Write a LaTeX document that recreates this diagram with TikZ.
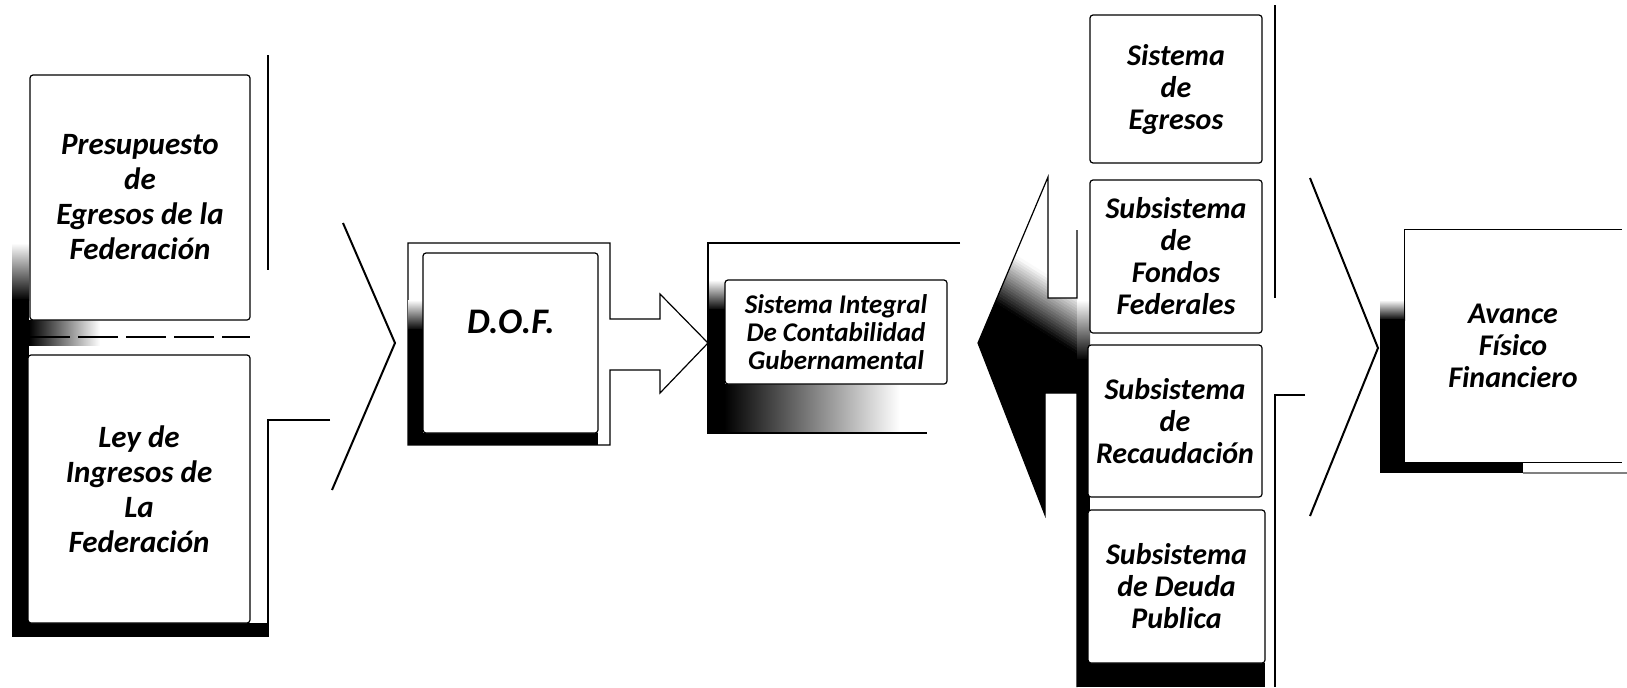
\documentclass[tikz,border=0pt]{standalone}
\usepackage{fontspec}
\setmainfont{Carlito}
\newcommand\lfont{\fontsize{15.5}{17.5}\selectfont\bfseries\itshape}
\newcommand\rfont{\fontsize{15}{16}\selectfont\bfseries\itshape}
\newcommand\dfont{\fontsize{18}{20}\selectfont\bfseries\itshape}
\newcommand\sfont{\fontsize{13.5}{14}\selectfont\bfseries\itshape}
\begin{document}
\begin{tikzpicture}[x=0.5pt,y=-0.5pt,
  ln/.style={line width=0.6pt},
  chev/.style={line width=1pt, line join=miter},
  box/.style={draw, line width=0.6pt, fill=white, rounded corners=1.5pt, inner sep=0pt, align=center},
  lbl/.style={inner sep=0pt, align=center},
  fadedown/.style={top color=white, bottom color=black},
]
\useasboundingbox[fill=white] (0,0) rectangle (1627,687);

% ---------- left column ----------
\shade[fadedown] (12,243) rectangle (29,300);
\fill (12,299) rectangle (29,637);
\fill (12,623) rectangle (267,637);
\shade[left color=black, right color=white] (29,320) rectangle (100,345);
\node[box, font=\lfont, minimum width=110pt, minimum height=122.5pt] (pef) at (140,197.5)
  {Presupuesto\\de\\Egresos de la\\Federación};
\draw[ln, dashed, dash pattern=on 20pt off 4pt] (30,337)--(250,337);
\node[box, font=\lfont, minimum width=111pt, minimum height=134pt] (lif) at (139,489)
  {Ley de\\Ingresos de\\La\\Federación};
\draw[ln] (268,55)--(268,270);
\draw[ln] (330,420)--(268,420)--(268,637);

\coordinate (c1a) at (343,223);
\coordinate (c1t) at (395,343);
\coordinate (c1b) at (332,490);
\draw[chev] (c1a)--(c1t)--(c1b);

% ---------- D.O.F. ----------
\draw[ln, fill=white] (610,319)--(610,243)--(408,243)--(408,445)--(610,445)--(610,370)
  --(660,370)--(660,393)--(708,343)--(660,294)--(660,319)--cycle;
\shade[fadedown] (408,300) rectangle (423,330);
\fill (408,329) rectangle (423,445);
\fill (408,433) rectangle (598,445);
\node[box, minimum width=87.5pt, minimum height=90pt] (dof) at (510.5,343) {};
\node[lbl, font=\dfont] (dofT) at (511,322) {D.O.F.};

% ---------- SIC ----------
\shade[fadedown] (708,280) rectangle (725,310);
\fill (708,309) rectangle (725,433);
\shade[left color=black, middle color=black, right color=white] (724,384) rectangle (900,433);
\draw[ln] (960,243)--(708,243)--(708,433)--(927,433);
\node[box, font=\sfont, minimum width=111pt, minimum height=52pt] (sic) at (836,332)
  {Sistema Integral\\De Contabilidad\\Gubernamental};

% ---------- right arrow ----------
\coordinate (rtop) at (1048,177);
\coordinate (rtip) at (978,343);
\coordinate (rbot) at (1045,515);
\begin{scope}
\clip (rtop)--(rtip)--(rbot)--(1045,393)--(1077,393)--(1077,298)--(1048,298)--cycle;
\fill (960,280)--(1080,355)--(1080,530)--(960,530)--cycle;
\foreach \i in {0,...,19}{
  \pgfmathsetmacro\c{97.5-5*\i}
  \fill[black!\c] (960,{280.5-3*\i})--(1080,{355.5-3*\i})--(1080,{352-3*\i})--(960,{277-3*\i})--cycle;
}
\end{scope}
\draw[ln] (1077,230)--(1077,298)--(1048,298)--(rtop)--(rtip)--(rbot)--(1045,393)
  --(1077,393)--(1077,687);

% ---------- right column ----------
\shade[fadedown] (1077,300) rectangle (1090,360);
\fill (1077,359) rectangle (1090,687);
\fill (1077,663) rectangle (1265,687);
\node[box, font=\rfont, minimum width=86pt, minimum height=74pt] (s1) at (1176,89)
  {Sistema\\de\\Egresos};
\node[box, font=\rfont, minimum width=86pt, minimum height=76.5pt] (s2) at (1176,256.5)
  {Subsistema\\de\\Fondos\\Federales};
\node[box, font=\rfont, minimum width=87pt, minimum height=76pt] (s3) at (1175,421)
  {Subsistema\\de\\Recaudación};
\node[box, font=\rfont, minimum width=88.5pt, minimum height=76.5pt] (s4) at (1176.5,586.5)
  {Subsistema\\de Deuda\\Publica};
\draw[ln] (1275,5)--(1275,298);
\draw[ln] (1305,395)--(1275,395)--(1275,687);

\coordinate (c2a) at (1310,178);
\coordinate (c2t) at (1378,348);
\coordinate (c2b) at (1310,516);
\draw[chev] (c2a)--(c2t)--(c2b);

% ---------- Avance ----------
\shade[fadedown] (1380,300) rectangle (1405,320);
\fill (1380,319) rectangle (1405,473);
\fill (1380,462) rectangle (1523,473);
\draw[ln, gray] (1523,473)--(1627,473);
\node[lbl, font=\rfont, minimum width=108.5pt, minimum height=116pt] (av) at (1513,346)
  {Avance\\Físico\\Financiero};
\draw[ln] (av.north east)--(av.north west)--(av.south west)--(av.south east);
\end{tikzpicture}
\end{document}
